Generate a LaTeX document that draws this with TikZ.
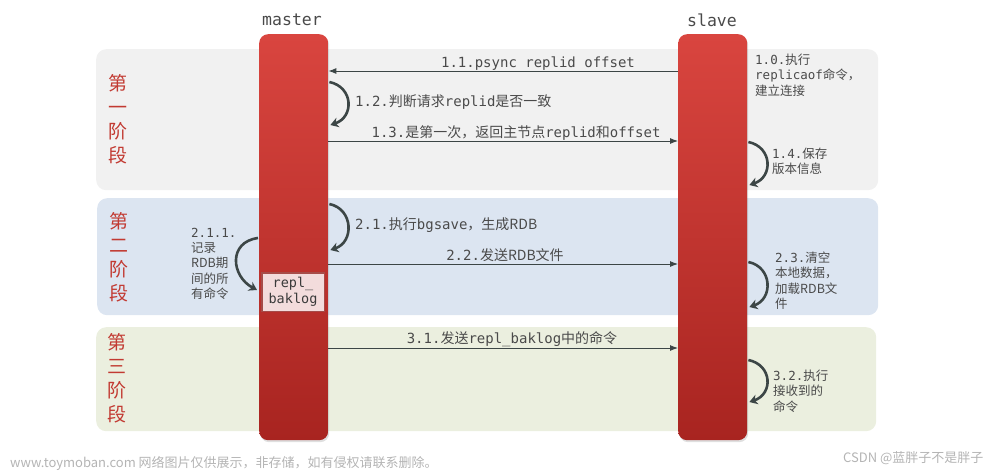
\documentclass[tikz,border=0pt]{standalone}
\usepackage{fontspec}
\setmainfont{DejaVu Sans Mono}
\newfontfamily\cjk{Noto Sans CJK SC}
\usetikzlibrary{arrows.meta,calc,shadows}
\newcommand\z[1]{{\cjk #1}}
\definecolor{barTop}{HTML}{D9453F}
\definecolor{barBot}{HTML}{A82420}
\definecolor{pOne}{HTML}{F1F1F1}
\definecolor{pTwo}{HTML}{DCE5F1}
\definecolor{pThree}{HTML}{EBEFDF}
\definecolor{phaseRed}{HTML}{C23A32}
\definecolor{txt}{HTML}{4A4A4A}
\definecolor{arr}{HTML}{3C4646}
\definecolor{wmgray}{HTML}{B4B4B4}
\definecolor{bakfill}{HTML}{F3DCDC}
\tikzset{
  panel/.style={draw=none, rounded corners=10pt, anchor=north west, inner sep=0pt},
  bar/.style={draw=none, rounded corners=9pt, anchor=north west, minimum width=69pt, minimum height=406pt, inner sep=0pt,
    top color=barTop, bottom color=barBot, drop shadow={shadow xshift=1pt, shadow yshift=-2pt, opacity=0.25}},
  actor/.style={font=\fontsize{16.5}{19}\selectfont, text=txt},
  phase/.style={font=\cjk\fontsize{19}{24}\selectfont, text=phaseRed, align=center},
  msgl/.style={font=\fontsize{14}{17}\selectfont, text=txt, inner sep=0pt},
  smalll/.style={font=\fontsize{12.5}{15.2}\selectfont, text=txt, align=left, inner sep=0pt, anchor=north west},
  msg/.style={draw=arr, line width=0.9pt, -{Latex[length=8pt,width=6pt]}},
  loopa/.style={draw=arr, line width=2.6pt, -{Stealth[length=8pt,width=10pt]}},
  wm/.style={font=\cjk\fontsize{13}{15}\selectfont, text=wmgray, inner sep=0pt}
}
\begin{document}
\begin{tikzpicture}[x=1pt,y=-1pt]
\useasboundingbox (0,0) rectangle (1000,471);
% phase panels
\node[panel, fill=pOne, minimum width=782pt, minimum height=141pt] (p1) at (96,49) {};
\node[panel, fill=pTwo, minimum width=781pt, minimum height=117pt] (p2) at (97,198) {};
\node[panel, fill=pThree, minimum width=780pt, minimum height=104pt] (p3) at (96,327) {};
% phase labels
\node[phase] (ph1) at (118,119) {第\\一\\阶\\段};
\node[phase] (ph2) at (119,257) {第\\二\\阶\\段};
\node[phase] (ph3) at (117,378) {第\\三\\阶\\段};
% bars
\node[bar] (M) at (259,34) {};
\node[bar] (S) at (678,34) {};
\node[actor, anchor=base] (mt) at (292,25) {master};
\node[actor, anchor=base] (st) at (712,27) {slave};
% reference rows
\coordinate (r11) at (0,71);
\coordinate (r13) at (0,141);
\coordinate (r22) at (0,264);
\coordinate (r31) at (0,348);
% messages
\draw[msg] (S.west |- r11) -- (M.east |- r11);
\node[msgl, anchor=base] (l11) at (538,67) {1.1.psync replid offset};
\draw[msg] (M.east |- r13) -- (S.west |- r13);
\node[msgl, anchor=base] (l13) at (516,137) {1.3.\z{是第一次，返回主节点}replid\z{和}offset};
\draw[msg] (M.east |- r22) -- (S.west |- r22);
\node[msgl, anchor=base] (l22) at (505,260) {2.2.\z{发送RDB文件}};
\draw[msg] (M.east |- r31) -- (S.west |- r31);
\node[msgl, anchor=base] (l31) at (512,343) {3.1.\z{发送}repl\_baklog\z{中的命令}};
% self loops
\draw[loopa] ($(M.north east)+(1,48)$) .. controls +(24,5) and +(24,-8) .. ($(M.north east)+(2,91)$);
\node[msgl, anchor=base west] (l12) at (355,106) {1.2.\z{判断请求}replid\z{是否一致}};
\draw[loopa] ($(M.north east)+(1,170)$) .. controls +(24,5) and +(24,-8) .. ($(M.north east)+(2,216)$);
\node[msgl, anchor=base west] (l21) at (355,229) {2.1.\z{执行}bgsave\z{，生成RDB}};
\draw[loopa] ($(M.north west)+(-1,204)$) .. controls +(-30,4) and +(-26,-14) .. ($(M.north west)+(-2,256)$);
\draw[loopa] ($(S.north east)+(1,108)$) .. controls +(24,5) and +(24,-8) .. ($(S.north east)+(2,151)$);
\draw[loopa] ($(S.north east)+(1,228)$) .. controls +(24,5) and +(24,-8) .. ($(S.north east)+(2,273)$);
\draw[loopa] ($(S.north east)+(1,326)$) .. controls +(24,5) and +(24,-8) .. ($(S.north east)+(2,368)$);
% side notes
\node[smalll] (l10) at (755,54) {1.0.\z{执行}\\replicaof\z{命令，}\\\z{建立连接}};
\node[smalll] (l14) at (772,148) {1.4.\z{保存}\\\z{版本信息}};
\node[smalll] (l211) at (191,228) {2.1.1.\\\z{记录}\\\z{RDB期}\\\z{间的所}\\\z{有命令}};
\node[smalll] (l23) at (775,252) {2.3.\z{清空}\\\z{本地数据，}\\\z{加载RDB文}\\\z{件}};
\node[smalll] (l32) at (773,370) {3.2.\z{执行}\\\z{接收到的}\\\z{命令}};
% repl_baklog
\node[draw=none, fill=bakfill, minimum width=61pt, minimum height=37pt, inner sep=0pt, align=center,
  font=\fontsize{13.5}{15.5}\selectfont, text=txt!80!black,
  drop shadow={shadow xshift=0pt, shadow yshift=0pt, opacity=0.35, shadow scale=1.06}] (bak) at (293,292) {repl\_\\baklog};
% watermarks
\node[wm, anchor=base west] (wm1) at (10,467) {www.toymoban.com 网络图片仅供展示，非存储，如有侵权请联系删除。};
\node[wm, anchor=base west] (wm2) at (843,462) {CSDN @蓝胖子不是胖子};
\end{tikzpicture}
\end{document}
